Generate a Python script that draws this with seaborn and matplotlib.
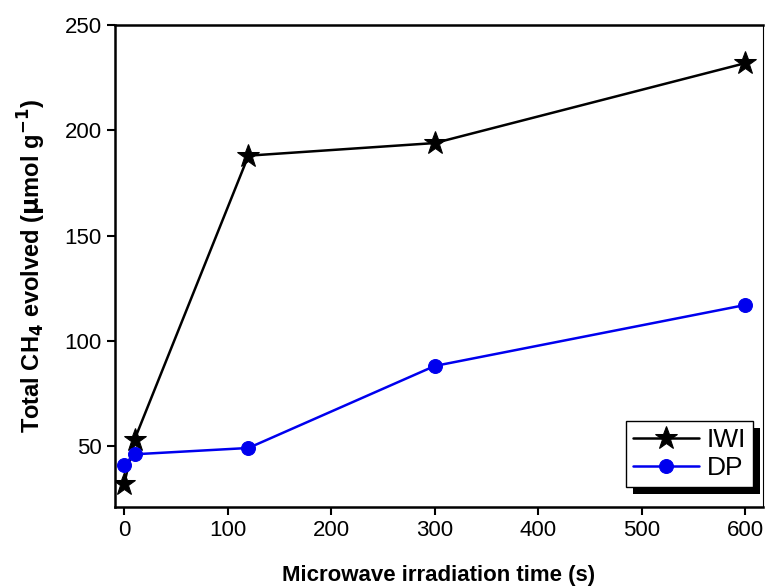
import matplotlib
matplotlib.use("Agg")
import matplotlib.pyplot as plt
from matplotlib.patches import Rectangle
from matplotlib.transforms import IdentityTransform
import seaborn as sns
import pandas as pd

# data
time_s = [0, 10, 120, 300, 600]
iwi = [32, 53, 188, 194, 232]
dp = [41, 46, 49, 88, 117]

df = pd.DataFrame({
    "time": time_s * 2,
    "ch4": iwi + dp,
    "sample": ["IWI"] * len(time_s) + ["DP"] * len(time_s),
})

sns.set_style("ticks")
plt.rcParams["font.family"] = ["Liberation Sans", "DejaVu Sans"]
plt.rcParams["mathtext.default"] = "bf"
plt.rcParams["text.color"] = "black"
plt.rcParams["axes.labelcolor"] = "black"

fig = plt.figure(figsize=(7.66, 5.88), dpi=100)
ax = fig.add_axes([0.150, 0.138, 0.846, 0.819])

sns.lineplot(data=df[df["sample"] == "IWI"], x="time", y="ch4", color="black",
             marker="*", markersize=17, linewidth=1.8, label="IWI", ax=ax,
             markeredgecolor="black")
sns.lineplot(data=df[df["sample"] == "DP"], x="time", y="ch4", color="#0000ee",
             marker="o", markersize=10, linewidth=1.8, label="DP", ax=ax,
             markeredgecolor="#0000ee")

ax.set_xlim(-9, 617)
ax.set_ylim(21, 250)
ax.set_xticks([0, 100, 200, 300, 400, 500, 600])
ax.set_yticks([50, 100, 150, 200, 250])
ax.tick_params(axis="both", direction="out", length=6, width=1.5, labelsize=16,
               colors="black", top=False, right=False)
for side in ["left", "bottom", "top"]:
    ax.spines[side].set_linewidth(1.8)
    ax.spines[side].set_color("black")
ax.spines["right"].set_linewidth(0.8)
ax.spines["right"].set_color("black")

ax.set_xlabel("Microwave irradiation time (s)", fontsize=16, fontweight="bold",
              labelpad=17, color="black")
ax.set_ylabel(r"Total CH$_4$ evolved ($\mu$mol g$^{-1}$)", fontsize=17,
              fontweight="bold", labelpad=12, color="black")

leg = ax.legend(loc="lower right", bbox_to_anchor=(0.984, 0.042), frameon=True,
                fancybox=False, framealpha=1.0, facecolor="white", fontsize=19,
                handlelength=2.5, borderpad=0.25, labelspacing=0.15,
                handletextpad=0.3, borderaxespad=0)
leg.get_frame().set_edgecolor("black")
leg.get_frame().set_linewidth(1.0)
leg.set_zorder(6)
for t in leg.get_texts():
    t.set_color("black")

# hard black drop shadow behind the legend box
fig.canvas.draw()
bb = leg.get_frame().get_window_extent()
ax.add_patch(Rectangle((bb.x0 + 7, bb.y0 - 7), bb.width, bb.height,
                       transform=IdentityTransform(), facecolor="black",
                       edgecolor="none", zorder=5.5, clip_on=False))

fig.savefig("out.png", dpi=100)
